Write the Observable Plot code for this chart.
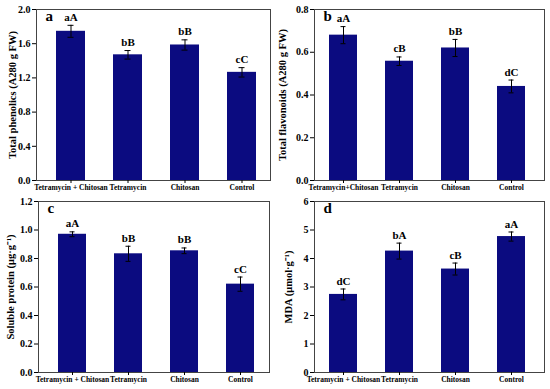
<!DOCTYPE html>
<html><head><meta charset="utf-8">
<script src="https://cdn.jsdelivr.net/npm/d3@7"></script>
<script src="https://cdn.jsdelivr.net/npm/@observablehq/plot@0.6"></script>
<style>
body{margin:0;background:#fff;}
#grid{display:grid;grid-template-columns:275px 275px;grid-template-rows:195px 194px;width:550px;height:389px;}
#grid svg{font-family:"Liberation Serif","Times New Roman",serif;font-weight:bold;color:#000;}
</style></head><body><div id="grid"></div>
<script>
const treatments = ["Tetramycin + Chitosan", "Tetramycin", "Chitosan", "Control"];
const treatmentsB = ["Tetramycin+Chitosan", "Tetramycin", "Chitosan", "Control"];

const phenolics = [1.745, 1.47, 1.585, 1.265];
const phenolicsErr = [0.07, 0.05, 0.06, 0.055];
const phenolicsSig = ["aA", "bB", "bB", "cC"];

const flavonoids = [0.68, 0.558, 0.62, 0.44];
const flavonoidsErr = [0.04, 0.02, 0.04, 0.03];
const flavonoidsSig = ["aA", "cB", "bB", "dC"];

const protein = [0.97, 0.833, 0.854, 0.62];
const proteinErr = [0.017, 0.053, 0.02, 0.05];
const proteinSig = ["aA", "bB", "bB", "cC"];

const mda = [2.74, 4.26, 3.63, 4.77];
const mdaErr = [0.19, 0.28, 0.21, 0.16];
const mdaSig = ["dC", "bA", "cB", "aA"];

const panels = [
  {letter: "a", cats: treatments, vals: phenolics, errs: phenolicsErr, sig: phenolicsSig,
   label: "Total phenolics (A280 g FW)", domain: [0, 2], ticks: [0, 0.4, 0.8, 1.2, 1.6, 2.0], fmt: ".1f",
   h: 195, mt: 9, mb: 15, ml: 36, mr: 5, align: 0.58, labelDx: -24},
  {letter: "b", cats: treatmentsB, vals: flavonoids, errs: flavonoidsErr, sig: flavonoidsSig,
   label: "Total flavonoids (A280 g FW)", domain: [0, 0.8], ticks: [0, 0.2, 0.4, 0.6, 0.8], fmt: ".1f",
   h: 195, mt: 9, mb: 15, ml: 39, mr: 6, align: 0.45, labelDx: -32},
  {letter: "c", cats: treatments, vals: protein, errs: proteinErr, sig: proteinSig,
   label: "Soluble protein (μg·g⁻¹)", domain: [0, 1.2], ticks: [0, 0.2, 0.4, 0.6, 0.8, 1.0, 1.2], fmt: ".1f",
   h: 194, mt: 6, mb: 17, ml: 38, mr: 6, align: 0.57, labelDx: -28},
  {letter: "d", cats: treatments, vals: mda, errs: mdaErr, sig: mdaSig,
   label: "MDA (μmol·g⁻¹)", domain: [0, 6], ticks: [0, 1, 2, 3, 4, 5, 6], fmt: "d",
   h: 194, mt: 6, mb: 17, ml: 39, mr: 6, align: 0.45, labelDx: -26}
];

const grid = document.getElementById("grid");
for (const p of panels) {
  const data = p.cats.map((c, i) => ({cat: c, v: p.vals[i], e: p.errs[i], s: p.sig[i]}));
  const chart = Plot.plot({
    width: 275, height: p.h,
    marginTop: p.mt, marginBottom: p.mb, marginLeft: p.ml, marginRight: p.mr,
    style: {fontFamily: "'Liberation Serif', 'Times New Roman', serif", fontWeight: "bold", background: "#fff"},
    x: {domain: p.cats, paddingInner: 0.5, paddingOuter: 0.28, align: p.align},
    y: {domain: p.domain},
    marks: [
      Plot.barY(data, {x: "cat", y: "v", fill: "#0b0b80"}),
      Plot.ruleX(data, {x: "cat", y1: d => d.v - d.e, y2: d => d.v + d.e, stroke: "#000", strokeWidth: 1}),
      Plot.tickY(data, {x: "cat", y: d => d.v + d.e, stroke: "#000", strokeWidth: 1, insetLeft: 11.5, insetRight: 11.5}),
      Plot.tickY(data, {x: "cat", y: d => d.v - d.e, stroke: "#000", strokeWidth: 1, insetLeft: 11.5, insetRight: 11.5}),
      Plot.text(data, {x: "cat", y: d => d.v + d.e, text: "s", dy: -8, fontSize: 11, fontWeight: "bold", fill: "#000"}),
      Plot.frame({stroke: "#444", strokeWidth: 1}),
      Plot.axisY({ticks: p.ticks, tickFormat: p.fmt, tickSize: 4, tickPadding: 2, fontSize: 10, label: null}),
      Plot.axisX({tickSize: 3, tickPadding: 1, fontSize: 7.5, label: null, style: {letterSpacing: "0.8px"}}),
      Plot.text([p.label], {frameAnchor: "left", rotate: -90, dx: p.labelDx, fontSize: 10.5, fontWeight: "bold", fill: "#000", textAnchor: "middle"}),
      Plot.text([p.letter], {frameAnchor: "top-left", dx: 9, dy: 1, fontSize: 15, fontWeight: "bold", fill: "#000", textAnchor: "start", lineAnchor: "top"})
    ]
  });
  grid.appendChild(chart);
}
</script></body></html>
